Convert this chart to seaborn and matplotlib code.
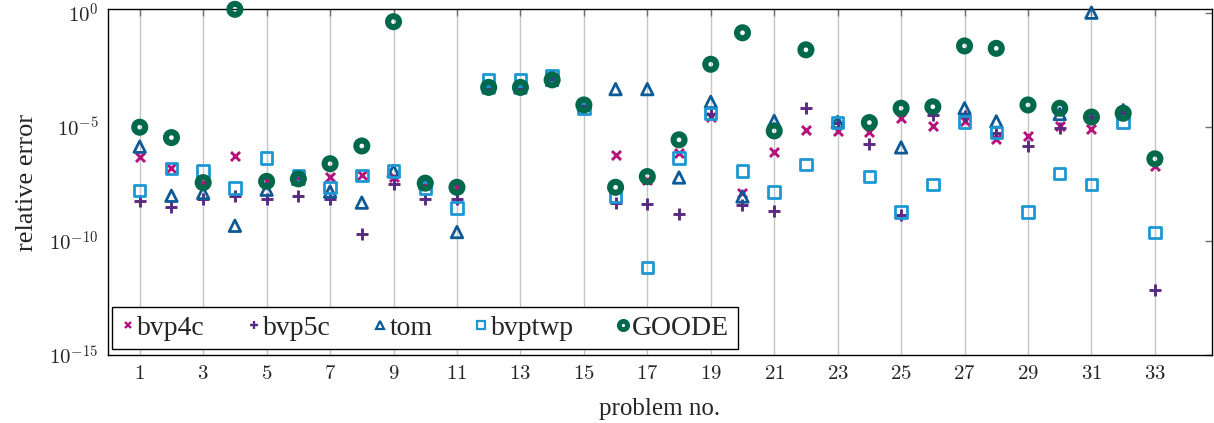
import numpy as np
import pandas as pd
import matplotlib
matplotlib.use("Agg")
import matplotlib.pyplot as plt
from matplotlib.lines import Line2D
import seaborn as sns

problems = list(range(1, 34))

bvp4c = [5.1e-7, 1.6e-7, 3.7e-8, 5.6e-7, 4.2e-8, 5.4e-8, 6.8e-8, 8.1e-8, 6.8e-8, 3.5e-8,
         2.3e-8, 5.6e-4, 5.6e-4, 1.2e-3, 9.5e-5, 6.2e-7, 5.0e-8, 7.2e-7, 2.9e-5, 1.3e-8,
         7.8e-7, 7.6e-6, 7.1e-6, 6.0e-6, 2.5e-5, 1.15e-5, 1.9e-5, 3.0e-6, 4.3e-6, 1.15e-5,
         8.5e-6, 4.1e-5, 1.9e-7]
bvp5c = [5.5e-9, 3.0e-9, 7.2e-9, 9.1e-9, 7.2e-9, 1.0e-8, 7.2e-9, 2.0e-10, 3.2e-8, 7.2e-9,
         6.9e-9, 5.6e-4, 5.6e-4, 1.2e-3, 9.5e-5, 4.9e-9, 4.4e-9, 1.5e-9, 4.0e-5, 3.9e-9,
         2.1e-9, 6.8e-5, 1.6e-5, 1.9e-6, 1.4e-9, 3.5e-5, 3.2e-5, 5.8e-6, 1.5e-6, 9.1e-6,
         2.8e-5, 4.1e-5, 7.2e-13]
tom = [1.4e-6, 9.8e-9, 1.3e-8, 4.7e-10, 1.8e-8, 5.4e-8, 1.5e-8, 4.9e-9, 1.2e-7, 3.5e-8,
       2.5e-10, 5.6e-4, 5.6e-4, 1.2e-3, 9.5e-5, 4.7e-4, 4.7e-4, 6.2e-8, 1.3e-4, 9.1e-9,
       1.9e-5, np.nan, 1.7e-5, np.nan, 1.3e-6, np.nan, 6.8e-5, 1.8e-5, np.nan, 3.8e-5,
       1.07, 5.6e-5, np.nan]
bvptwp = [1.7e-8, 1.5e-7, 1.2e-7, 2.1e-8, 4.4e-7, 7.6e-8, 2.3e-8, 7.6e-8, 1.2e-7, 2.1e-8,
          2.8e-9, 1.2e-3, 1.2e-3, 1.8e-3, 6.8e-5, 9.1e-9, 6.9e-12, 4.4e-7, 4.1e-5, 1.2e-7,
          1.4e-8, 2.3e-7, 1.6e-5, 6.8e-8, 1.9e-9, 3.0e-8, 1.7e-5, 5.8e-6, 1.9e-9, 9.5e-8,
          3.0e-8, 1.7e-5, 2.4e-10]
goode = [1.0e-5, 3.5e-6, 3.7e-8, 1.5, 4.2e-8, 5.4e-8, 2.5e-7, 1.5e-6, 0.43, 3.5e-8,
         2.3e-8, 5.6e-4, 5.6e-4, 1.2e-3, 9.5e-5, 2.3e-8, 6.8e-8, 2.8e-6, 5.8e-3, 0.14,
         6.9e-6, 2.5e-2, np.nan, 1.6e-5, 6.8e-5, 7.9e-5, 3.7e-2, 2.9e-2, 9.5e-5, 6.8e-5,
         2.8e-5, 4.1e-5, 4.1e-7]

x_ticks = list(range(1, 34, 2))
y_ticks = [1e-15, 1e-10, 1e-5, 1e0]
y_tick_labels = [r"$10^{-15}$", r"$10^{-10}$", r"$10^{-5}$", r"$10^{0}$"]

series = [
    ("bvp4c", bvp4c, "x", "#b5127c", 42, 2.1, True),
    ("bvp5c", bvp5c, "+", "#5a2a82", 70, 2.1, True),
    ("tom", tom, "^", "#0d5a96", 68, 2.0, False),
    ("bvptwp", bvptwp, "s", "#1d97d4", 68, 2.0, False),
    ("GOODE", goode, "o", "#00694c", 62, 4.4, False),
]

sns.set_theme(style="white")
plt.rcParams["font.family"] = ["Liberation Serif", "DejaVu Serif"]
plt.rcParams["mathtext.fontset"] = "cm"

fig = plt.figure(figsize=(12.14, 4.23), dpi=100)
ax = fig.add_axes([108 / 1214, 1 - 355 / 423, (1212 - 108) / 1214, (355 - 9) / 423])

handles = []
for name, vals, mk, col, s, lw, unfilled in series:
    df = pd.DataFrame({"problem": problems, "err": vals}).dropna()
    sns.scatterplot(data=df, x="problem", y="err", marker=mk, s=s, color=col,
                    linewidth=lw, ax=ax, legend=False, clip_on=False, zorder=3)
    coll = ax.collections[-1]
    if unfilled:
        coll.set_edgecolor(col)
        coll.set_facecolor(col)
    else:
        coll.set_facecolor("none")
        coll.set_edgecolor(col)
    coll.set_linewidth(lw)
    handles.append(Line2D([], [], linestyle="none", marker=mk, color=col,
                          markerfacecolor="none" if not unfilled else col,
                          markeredgecolor=col, markersize=np.sqrt(s) * 0.75,
                          markeredgewidth=lw * 0.8, label=name))

ax.set_yscale("log")
ax.set_ylim(1e-15, 10 ** 0.19)
ax.set_xlim(0, 34.8)
ax.set_xticks(x_ticks)
ax.set_xticklabels([rf"${v}$" for v in x_ticks], fontsize=15)
ax.set_yticks(y_ticks)
ax.set_yticklabels(y_tick_labels, fontsize=15)
ax.yaxis.set_minor_locator(matplotlib.ticker.NullLocator())
ax.tick_params(axis="both", direction="in", length=5, width=1, color="#707070",
               top=True, right=True, pad=7)
ax.grid(True, axis="x", color="#c4c4c4", linewidth=1)
ax.grid(False, axis="y")
for sp in ax.spines.values():
    sp.set_color("black")
    sp.set_linewidth(1)

ax.set_xlabel("problem no.", fontsize=18, labelpad=10)
ax.set_ylabel("relative error", fontsize=19, labelpad=8)

leg = ax.legend(handles=handles, loc="lower left", bbox_to_anchor=(0.004, 0.017),
                ncol=5, fontsize=20, frameon=True, fancybox=False, borderaxespad=0,
                handlelength=0.5, handletextpad=0.1, columnspacing=1.5,
                borderpad=0.3)
leg.get_frame().set_edgecolor("black")
leg.get_frame().set_linewidth(1)
leg.get_frame().set_alpha(1)

fig.savefig("out.png", dpi=100)
